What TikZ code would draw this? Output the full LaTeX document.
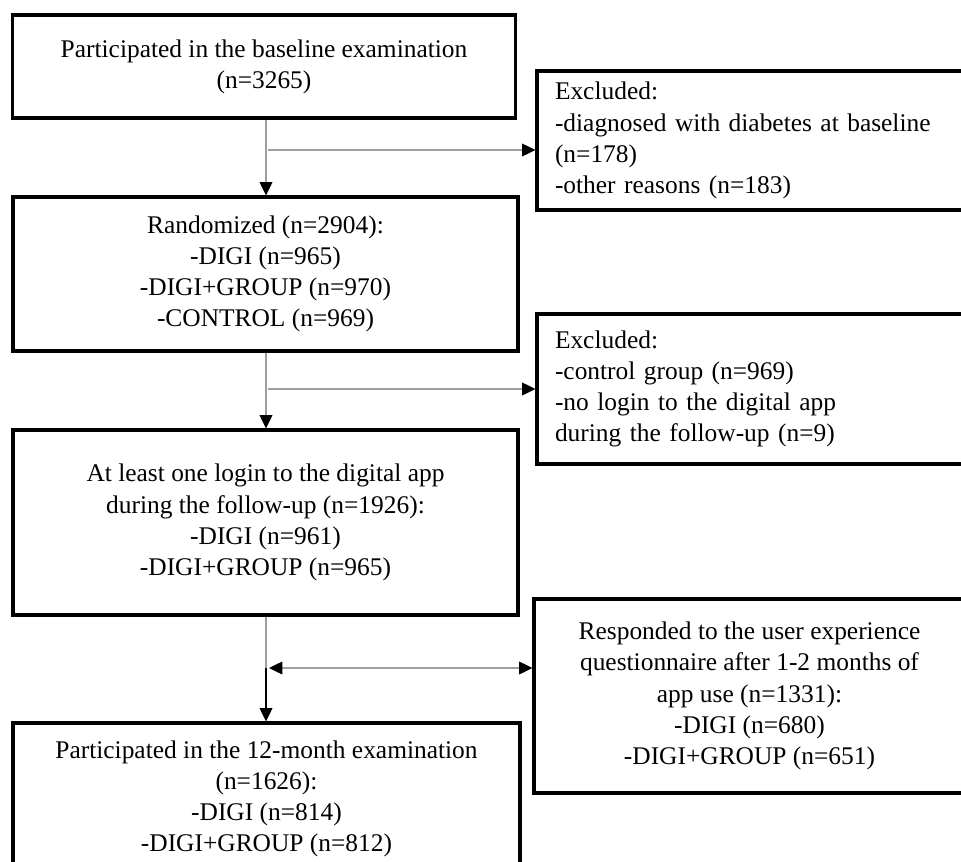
\documentclass[tikz,border=0pt]{standalone}
\usepackage{fontspec}
\setmainfont{Liberation Serif}
\usetikzlibrary{arrows.meta,positioning,calc}

\begin{document}
\begin{tikzpicture}[
  font=\fontsize{21.7}{26.6}\selectfont,
  Head/.tip={Triangle[length=0.4cm, width=0.38cm, color=black]},
  box/.style={draw, line width=2.6pt, align=center, inner sep=0pt},
  flow/.style={box, minimum width=15.1cm},
  excl/.style={box, align=left, text width=11.76cm, inner xsep=0.54cm, inner ysep=0pt},
  line/.style={draw=gray!75, line width=1.2pt},
  arr/.style={line, -{Head}},
  darr/.style={line, {Head}-{Head}}]
\useasboundingbox (0,0) rectangle (28.83,-25.86);
\clip (0,0) rectangle (28.83,-25.86);
% main column
\node[flow, minimum height=3.09cm] (base) at (7.92,-1.995) {Participated in the baseline examination\\(n=3265)};
\node[flow, minimum width=15.15cm, minimum height=4.62cm] (rand) at (7.965,-8.22) {Randomized (n=2904):\\-DIGI (n=965)\\-DIGI+GROUP (n=970)\\-CONTROL (n=969)};
\node[flow, minimum width=15.15cm, minimum height=5.55cm] (login) at (7.965,-15.675) {At least one login to the digital app\\during the follow-up (n=1926):\\-DIGI (n=961)\\-DIGI+GROUP (n=965)};
\node[flow, minimum width=15.21cm, minimum height=4.56cm] (final) at (7.995,-23.97) {Participated in the 12-month examination\\(n=1626):\\-DIGI (n=814)\\-DIGI+GROUP (n=812)};
% side boxes
\node[excl, minimum height=4.17cm] (excla) at (22.53,-4.215) {Excluded:\\-diagnosed with diabetes at baseline\\(n=178)\\-other reasons (n=183)};
\node[excl, minimum height=4.5cm] (exclb) at (22.53,-11.67) {Excluded:\\-control group (n=969)\\-no login to the digital app\\during the follow-up (n=9)};
\node[box, minimum width=12.93cm, minimum height=5.82cm] (resp) at (22.485,-20.88) {Responded to the user experience\\questionnaire after 1-2 months of\\app use (n=1331):\\-DIGI (n=680)\\-DIGI+GROUP (n=651)};
% arrows
\coordinate (trunk) at (7.98,0);
\coordinate (ja) at (8.04,-4.5);
\coordinate (jb) at (8.04,-11.67);
\coordinate (jc) at (8.07,-20.04);
\draw[arr] (base.south -| trunk) -- (rand.north -| trunk);
\draw[arr] (ja) -- (ja -| excla.west);
\draw[arr] (rand.south -| trunk) -- (login.north -| trunk);
\draw[arr] (jb) -- (exclb.west);
\draw[line] (login.south -| trunk) -- (jc -| trunk);
\draw[arr, draw=black] (jc -| trunk) -- (final.north -| trunk);
\draw[darr] (jc) -- (jc -| resp.west);
\end{tikzpicture}
\end{document}
